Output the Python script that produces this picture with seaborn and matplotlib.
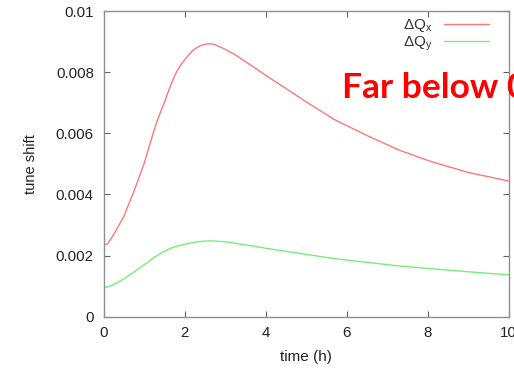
import numpy as np
import pandas as pd
import matplotlib
matplotlib.use('Agg')
import matplotlib.pyplot as plt
import seaborn as sns

# values
time_h = [0, 0.1, 0.2, 0.3, 0.5, 0.75, 1.0, 1.1, 1.25, 1.35, 1.5, 1.6, 1.7,
          1.8, 1.9, 2.0, 2.1, 2.2, 2.3, 2.4, 2.5, 2.6, 2.7, 2.8, 3.0, 3.25,
          3.5, 3.75, 4.0, 4.5, 5.0, 5.7, 6.5, 7.3, 8.1, 9.0, 10]
dqx = [0.00236, 0.00238, 0.00258, 0.0028, 0.00328, 0.0041, 0.0050, 0.00545,
       0.0061, 0.0065, 0.0070, 0.00737, 0.0077, 0.0080, 0.00822, 0.0084,
       0.00856, 0.0087, 0.0088, 0.00887, 0.00891, 0.00893, 0.00892, 0.00887,
       0.00875, 0.00857, 0.00835, 0.00813, 0.0079, 0.00747, 0.00703,
       0.00645, 0.00593, 0.00545, 0.00507, 0.00472, 0.00444]
dqy = [0.00096, 0.00097, 0.00102, 0.00109, 0.00124, 0.00146, 0.0017,
       0.00179, 0.00194, 0.00202, 0.00213, 0.0022, 0.00226, 0.0023, 0.00234,
       0.00237, 0.0024, 0.00242, 0.00245, 0.00246, 0.00247, 0.00248,
       0.00248, 0.00247, 0.00245, 0.0024, 0.00235, 0.0023, 0.00224, 0.00214,
       0.00204, 0.0019, 0.00178, 0.00166, 0.00157, 0.00147, 0.00137]
labels = ['ΔQ$_\\mathregular{x}$', 'ΔQ$_\\mathregular{y}$']

sns.set_style('ticks')
plt.rcParams['font.family'] = ['Liberation Sans', 'DejaVu Sans']
plt.rcParams['mathtext.fontset'] = 'custom'
plt.rcParams['mathtext.rm'] = 'Liberation Sans'

df = pd.DataFrame({'time': time_h * 2,
                   'shift': dqx + dqy,
                   'series': [labels[0]] * len(time_h) + [labels[1]] * len(time_h)})

fig = plt.figure(figsize=(5.14, 3.68), dpi=100)
ax = fig.add_axes([0.2014, 0.1394, 0.7879, 0.8307])
sns.lineplot(data=df, x='time', y='shift', hue='series',
             palette=['#ff7878', '#78ee78'], linewidth=1, ax=ax, legend=False)

ax.set_xlim(0, 10)
ax.set_ylim(0, 0.01)
ax.set_xticks([0, 2, 4, 6, 8, 10])
ax.set_yticks([0, 0.002, 0.004, 0.006, 0.008, 0.01])
ax.set_yticklabels(['0', '0.002', '0.004', '0.006', '0.008', '0.01'])
ax.tick_params(direction='in', top=True, right=True, length=4,
               color='#606060', labelsize=10.8, labelcolor='#222222', pad=7)
for s in ax.spines.values():
    s.set_color('#909090')
    s.set_linewidth(1)
ax.set_xlabel('time (h)', fontsize=11, color='#222222', labelpad=7)
ax.set_ylabel('tune shift', fontsize=10.5, color='#222222', labelpad=13)

leg = ax.legend(ax.lines[:2], labels, loc='upper right', frameon=False,
                markerfirst=False, fontsize=11, handlelength=2.9,
                handletextpad=0.8, labelspacing=0.0,
                bbox_to_anchor=(0.985, 1.025))
for t in leg.get_texts():
    t.set_ha('right')
    t.set_color('#333333')

fig.text(342 / 514, 1 - 98 / 368, 'Far below 0.01', color='#ff0000',
         fontsize=25.5, fontweight='bold', family='Lato', va='baseline')

fig.savefig('out.png', dpi=100)
